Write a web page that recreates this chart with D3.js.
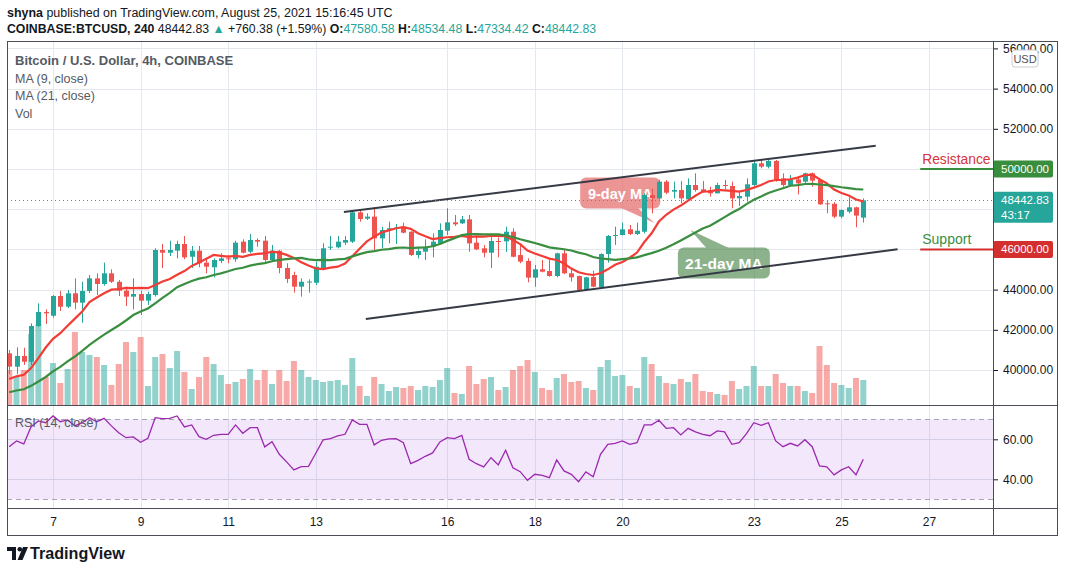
<!DOCTYPE html>
<html><head><meta charset="utf-8">
<script src="https://cdn.jsdelivr.net/npm/d3@7"></script>
<style>
html,body{margin:0;padding:0;background:#fff;}
svg{display:block;font-family:"Liberation Sans",Arial,sans-serif;}
</style></head><body>
<svg id="c" width="1065" height="573"></svg>
<script>
// ---------------- DATA ----------------
const startTime = "2021-08-06T00:00:00Z";   // first 4h candle
const opens = [
40830,40165,40700,40410,42190,42885,42700,43680,43150,43815,
43350,43930,44560,44280,44810,44390,43945,43650,43780,43450,
43730,45970,45835,45935,46270,45635,45935,45340,45110,45425,
45555,45510,46385,45885,46468,46435,45475,45935,45075,44725,
44145,44380,44340,45060,46085,46105,46335,46385,47845,47530,
47630,46550,46965,47050,47130,46880,45720,45885,46135,46300,
46930,47347,47297,47497,46335,46055,45835,46418,46400,46880,
45720,45425,44594,45010,44925,44677,45805,44810,44677,43980,
44627,44115,45770,46667,46716,47000,46766,46880,48706,48540,
49370,48872,48955,48491,49204,48990,48955,48790,49204,49154,
48541,48623,49204,50282,50116,50400,49536,49204,49486,49370,
49785,49453,48293,48270,47630,47876,48093,47580.58];
const highs = [
40995,41130,41110,42320,43318,43020,43730,43930,43980,44560,
44390,44725,44810,45340,45010,44480,44145,44560,43945,43900,
46055,46270,46435,46435,46667,46170,46170,45510,45555,45805,
45720,46435,46500,46765,46550,46667,46220,45970,45310,44890,
44560,44510,45390,46305,46667,46667,46667,47910,47910,47795,
48095,47130,47380,47265,47330,46900,46055,46500,46800,47297,
48045,47712,47662,47712,46650,46220,46650,46600,47130,47050,
46220,45555,45225,45475,45475,45835,45970,45060,44700,44640,
44940,45805,46716,47130,47330,47215,47330,48790,49040,49450,
49450,49370,49400,49536,49785,49400,49120,49320,49453,49370,
48920,49536,50448,50448,50448,50448,49785,49700,49650,49820,
49820,49486,48430,48350,47990,48590,48127,48534.48];
const lows = [
39800,39800,40250,40250,42140,42290,42600,42935,43085,43020,
42350,43830,43730,44195,44330,43680,43185,43020,42735,43235,
43650,45075,45670,45555,45510,45075,45110,44810,44610,45325,
45310,45390,45805,45805,46135,45390,45375,44810,44330,43850,
43650,43850,44230,44975,45970,46050,46220,46320,47380,47463,
45970,46055,46300,46270,46800,45670,45555,45475,45605,46220,
46716,47165,47265,45885,45970,45605,45075,45605,45870,45605,
45310,44362,44145,44860,44640,44610,44775,44395,43945,43945,
44115,44065,45340,46220,46700,46716,46716,46800,47795,48490,
48750,48541,48293,48460,48872,48823,48623,48790,48990,48045,
48160,48375,49150,50033,50033,49370,49120,49150,48740,49287,
49120,48209,47795,47547,47547,47795,47100,47334.42];
const closes = [
40165,40700,40410,42190,42885,42820,43680,43150,43815,43350,
43930,44560,44280,44810,44390,43945,43650,43780,43450,43780,
45970,45835,45970,46270,45605,45935,45310,45140,45475,45555,
45510,46335,45835,46468,46385,45475,45935,45075,44530,44145,
44390,44400,45140,46055,46135,46385,46468,47845,47513,47630,
46550,46965,47050,47080,46830,45720,45920,46135,46385,46965,
47347,47248,47497,46300,46003,45835,46418,46400,46880,45635,
45390,44594,45010,44890,44677,45805,44810,44610,43980,44610,
44145,45770,46667,46716,47000,46766,46930,48706,48540,49370,
48823,48955,48541,49204,48955,48840,48790,49204,49154,48541,
48657,49237,50282,50116,50400,49486,49204,49486,49287,49785,
49420,48244,48244,47630,47960,48093,47682.45,48442.83];
const volumes = [
2100,1680,2100,4260,4860,1680,2520,1320,2160,4380,
3180,3000,2880,2400,1200,2460,3780,3180,4080,1140,
2880,3060,2220,3240,1980,960,1680,2880,2460,1800,
1260,1380,1560,2160,1500,2100,1260,2100,1440,2640,
2100,1680,1500,1380,1440,1500,1200,2820,1140,540,
1680,1260,840,1080,1020,1140,900,1140,1080,1500,
2220,720,660,2340,1260,1560,1680,900,1080,2100,
2340,2700,1980,1020,900,1620,1860,1380,1440,1020,
900,2280,2700,1740,1800,1140,1020,2880,2460,1740,
1320,1260,1560,1380,1860,840,780,660,600,1440,
960,1140,2340,1140,1140,1860,1320,1140,1140,840,
720,3540,2400,1320,1200,1020,1620,1500];
const rsiValues = [
56.3,59.2,57.7,66.3,69.2,68.3,71.7,68.8,69.7,66.7,
68.3,70.8,68.8,70.5,66.7,63.3,60.8,61.2,58.5,60.5,
70.8,70.3,70.5,71.7,66.2,67.2,61.3,60.0,62.0,62.5,
62.5,67.2,63.0,65.8,65.8,56.2,58.8,52.5,48.7,44.7,
46.3,46.5,53.0,59.7,60.3,61.7,62.5,69.7,67.5,67.5,
57.2,59.5,60.2,60.3,58.3,47.8,49.5,51.5,53.2,58.7,
60.8,60.3,62.0,50.0,47.8,46.2,50.8,47.2,54.5,45.8,
43.8,39.5,42.5,42.0,40.8,49.7,44.2,42.5,38.8,43.7,
41.3,52.5,57.5,58.0,59.2,57.5,58.3,67.2,67.2,69.5,
65.5,65.8,62.2,65.5,63.7,62.5,61.8,64.2,63.7,57.5,
58.3,62.8,68.3,67.0,68.3,59.2,56.3,58.0,56.7,59.8,
56.3,46.7,46.2,42.2,44.7,46.3,42.2,50.0];
// closes of the 20 candles before the visible range (moving-average warm-up)
const priorCloses = [38900,39150,38600,38300,38150,37900,38350,38150,38200,37950,
38500,38700,39500,39700,39200,38400,38100,39800,40600,40500];
const maPeriods = [9, 21];
const dayTicks = ["2021-08-07","2021-08-09","2021-08-11","2021-08-13","2021-08-16",
  "2021-08-18","2021-08-20","2021-08-23","2021-08-25","2021-08-27"];
const priceTicks = [40000,42000,44000,46000,48000,50000,52000,54000,56000];
const rsiGridTicks = [40, 60];
const rsiBand = [30, 70];
const trendLines = [
  [["2021-08-13T15:24Z", 47860], ["2021-08-25T18:48Z", 51160]],
  [["2021-08-14T03:24Z", 42540], ["2021-08-26T06:48Z", 46005]]
];
const maLabels = [
  {text:"9-day MA",  t:"2021-08-19T22:48Z", p:48806, tipT:"2021-08-20T17:36Z", tipP:47313},
  {text:"21-day MA", t:"2021-08-22T07:36Z", p:45323, tipT:"2021-08-21T13:12Z", tipP:46965}
];
const levels = [
  {name:"Resistance", price:50000, from:"2021-08-26T19:12Z"},
  {name:"Support",    price:46000, from:"2021-08-26T19:12Z"}
];
const author = "shyna", published = "August 25, 2021 15:16:45 UTC";
const symbol = "COINBASE:BTCUSD, 240", timeLeft = "43:17";

// ---------------- LAYOUT ----------------
const L=7, R=1058, AX=993, TOP=41, MB=405, RB=508, TB=536;
const UP="#26a69a", DN="#ef5350", GRID="#e3e8ef", FRAME="#4a4d57";
const svg = d3.select("#c");
const H4 = 4*3600*1000;
const t0 = new Date(startTime);
const data = closes.map((c,i)=>({t:new Date(+t0+i*H4), o:opens[i], h:highs[i], l:lows[i], c, v:volumes[i], r:rsiValues[i]}));
const allC = priorCloses.concat(closes);
const P = priorCloses.length;
const ma = maPeriods.map(n => data.map((d,i)=>({t:d.t, v:d3.mean(allC.slice(i+P-n+1, i+P+1))})));

const x = d3.scaleUtc().domain([t0, new Date(+t0+126*H4)]).range([9.2, 9.2+7.3*126]);
const y = d3.scaleLinear().domain([38259, 56368]).range([MB, TOP]);
const yv = d3.scaleLinear().domain([0, d3.max(volumes)]).range([MB, MB-81]);
const yr = d3.scaleLinear().domain([25.65, 77.15]).range([RB, MB]);

const defs = svg.append("defs");
defs.append("clipPath").attr("id","cm").append("rect").attr("x",L).attr("y",TOP).attr("width",AX-L).attr("height",MB-TOP);
defs.append("clipPath").attr("id","cr").append("rect").attr("x",L).attr("y",MB).attr("width",AX-L).attr("height",RB-MB);
defs.append("clipPath").attr("id","ca").append("rect").attr("x",0).attr("y",TOP+1).attr("width",R-AX).attr("height",MB-TOP-1);

// fit a text to a target width by choosing its font size (keeps glyph proportions)
function fitWidth(sel, target, base){
  const w = sel.node().getComputedTextLength();
  sel.attr("font-size", base*target/w);
}

// ---- header ----
const h1 = svg.append("text").attr("x",7).attr("y",17).attr("font-size",13).attr("fill","#131722");
h1.append("tspan").attr("font-weight","bold").text(author);
h1.append("tspan").text(" published on TradingView.com, " + published);
fitWidth(h1, 386, 13);
const last = data[data.length-1], prev = data[data.length-2];
const chg = last.c - prev.c, pct = chg/prev.c*100;
const f2 = d3.format(".2f");
const h2 = svg.append("text").attr("x",7).attr("y",33).attr("font-size",13).attr("fill","#131722");
h2.append("tspan").attr("font-weight","bold").text(symbol);
h2.append("tspan").text(" " + f2(last.c) + " ");
h2.append("tspan").attr("fill",UP).text("▲");
h2.append("tspan").text(" +" + f2(chg) + " (+" + f2(pct) + "%) ");
[["O:",last.o],["H:",last.h],["L:",last.l],["C:",last.c]].forEach(([k,v],i)=>{
  h2.append("tspan").attr("font-weight","bold").text((i? " ":"") + k);
  h2.append("tspan").attr("fill",UP).text(f2(v));
});
fitWidth(h2, 590, 13);

// ---- grid ----
const gGrid = svg.append("g");
dayTicks.forEach(d=>{
  const xx = Math.round(x(new Date(d+"T00:00Z")))+0.5;
  gGrid.append("line").attr("x1",xx).attr("x2",xx).attr("y1",TOP).attr("y2",RB).attr("stroke",GRID);
});
priceTicks.forEach(p=>{
  const yy = Math.round(y(p))+0.5;
  gGrid.append("line").attr("x1",L).attr("x2",AX).attr("y1",yy).attr("y2",yy).attr("stroke",GRID);
});
// RSI band + grid
svg.append("rect").attr("x",L).attr("width",AX-L).attr("y",yr(rsiBand[1])).attr("height",yr(rsiBand[0])-yr(rsiBand[1]))
  .attr("fill","#a050e0").attr("fill-opacity",0.13);
rsiGridTicks.forEach(r=>{
  const yy = Math.round(yr(r))+0.5;
  svg.append("line").attr("x1",L).attr("x2",AX).attr("y1",yy).attr("y2",yy).attr("stroke","#d4cde6");
});
rsiBand.forEach(r=>{
  const yy = Math.round(yr(r))+0.5;
  svg.append("line").attr("x1",L).attr("x2",AX).attr("y1",yy).attr("y2",yy).attr("stroke","#a9a6b3").attr("stroke-dasharray","5,4");
});

// ---- main pane ----
const gm = svg.append("g").attr("clip-path","url(#cm)");
// MA labels (under candles)
maLabels.forEach((m,i)=>{
  const cx = x(new Date(m.t)), cy = y(m.p), tx = x(new Date(m.tipT)), ty = y(m.tipP);
  const w = i===0 ? 80 : 92, h = 31;
  const g = gm.append("g").attr("opacity", i===0?0.65:0.6);
  const fill = i===0 ? "#e35d5d" : "#3f7f3f";
  g.append("rect").attr("x",cx-w/2).attr("y",cy-h/2).attr("width",w).attr("height",h).attr("rx",6).attr("fill",fill);
  const pts = i===0 ? [[cx,cy+h/2-1],[cx+17,cy+h/2-1],[tx,ty]] : [[cx-17,cy-h/2+1],[cx+6,cy-h/2+1],[tx,ty]];
  g.append("polygon").attr("points",pts.map(p=>p.join(",")).join(" ")).attr("fill",fill);
  gm.append("text").attr("x",cx).attr("y",cy+5.5).attr("text-anchor","middle").attr("fill","#fff")
    .attr("font-weight","bold").attr("font-size",i===0?14.5:15.5).text(m.text);
});
// volume
gm.selectAll(".vol").data(data).join("rect")
  .attr("x",d=>x(d.t)-3).attr("width",6).attr("y",d=>yv(d.v)).attr("height",d=>MB-yv(d.v))
  .attr("fill",d=>d.c>=d.o?UP:DN).attr("fill-opacity",0.5);
// candles
const cg = gm.selectAll(".cd").data(data).join("g");
cg.append("line").attr("x1",d=>Math.round(x(d.t))+0.5).attr("x2",d=>Math.round(x(d.t))+0.5)
  .attr("y1",d=>y(d.h)).attr("y2",d=>y(d.l)).attr("stroke",d=>d.c>=d.o?UP:DN).attr("stroke-width",1);
cg.append("rect").attr("x",d=>Math.round(x(d.t))-2).attr("width",5)
  .attr("y",d=>y(Math.max(d.o,d.c))).attr("height",d=>Math.max(1,Math.abs(y(d.o)-y(d.c))))
  .attr("fill",d=>d.c>=d.o?UP:DN);
// MA lines
const maColors = ["#f23c36","#3a8e3f"];
ma.forEach((s,i)=>{
  gm.append("path").datum(s).attr("fill","none").attr("stroke",maColors[i]).attr("stroke-width",2.2)
    .attr("d",d3.line().x(d=>x(d.t)).y(d=>y(d.v)).curve(d3.curveLinear));
});
// trend lines
trendLines.forEach(tl=>{
  gm.append("line").attr("x1",x(new Date(tl[0][0]))).attr("y1",y(tl[0][1]))
    .attr("x2",x(new Date(tl[1][0]))).attr("y2",y(tl[1][1])).attr("stroke","#363a45").attr("stroke-width",2);
});
// last price dotted line
gm.append("line").attr("x1",L).attr("x2",AX).attr("y1",Math.round(y(last.c))+0.5).attr("y2",Math.round(y(last.c))+0.5)
  .attr("stroke",UP).attr("stroke-dasharray","1,3");
// support / resistance
levels.forEach(lv=>{
  const isR = lv.name==="Resistance";
  const lineC = isR ? "#388e3c" : "#d32f2f", textC = isR ? "#d8343a" : "#3b8e3f";
  const x1 = x(new Date(lv.from)), yy = y(lv.price);
  gm.append("line").attr("x1",x1).attr("x2",AX).attr("y1",yy).attr("y2",yy).attr("stroke",lineC).attr("stroke-width",2);
  gm.append("text").attr("x",x1+2).attr("y",yy-5).attr("fill",textC).attr("font-size",isR?13.8:14).text(lv.name);
});

// legend
const legend = ["Bitcoin / U.S. Dollar, 4h, COINBASE","MA (9, close)","MA (21, close)","Vol"];
legend.forEach((s,i)=>{
  svg.append("text").attr("x",15).attr("y",65+i*17.5).attr("fill","#555a63").attr("font-size",i===0?13:12.5)
    .attr("font-weight",i===0?"bold":"normal").text(s);
});

// ---- RSI pane ----
const gr = svg.append("g").attr("clip-path","url(#cr)");
gr.append("path").datum(data).attr("fill","none").attr("stroke","#9c27b0").attr("stroke-width",1.3)
  .attr("d",d3.line().x(d=>x(d.t)).y(d=>yr(d.r)));
svg.append("text").attr("x",15).attr("y",427).attr("fill","#555a63").attr("font-size",12.5).text("RSI (14, close)");

// ---- axes ----
// axis tags cover some tick labels (as on the original), so leave those ticks out
const tagPrices = [levels[0].price, levels[1].price, last.c];
const visibleTicks = priceTicks.filter(p => tagPrices.every(tp => Math.abs(y(p)-y(tp)) > 14));
const pa = svg.append("g").attr("transform",`translate(${AX},0)`).attr("clip-path","url(#ca)")
  .call(d3.axisRight(y).tickValues(visibleTicks).tickFormat(f2).tickSize(5).tickPadding(5));
pa.select(".domain").remove();
pa.selectAll("text").attr("font-size",12).attr("fill","#131722").attr("font-family","Liberation Sans, Arial");
pa.selectAll("line").attr("stroke","#131722");
const ra = svg.append("g").attr("transform",`translate(${AX},0)`)
  .call(d3.axisRight(yr).tickValues(rsiGridTicks).tickFormat(f2).tickSize(5).tickPadding(5));
ra.select(".domain").remove();
ra.selectAll("text").attr("font-size",12).attr("fill","#131722").attr("font-family","Liberation Sans, Arial");
ra.selectAll("line").attr("stroke","#131722");
const ta = svg.append("g").attr("transform",`translate(0,${RB})`)
  .call(d3.axisBottom(x).tickValues(dayTicks.map(d=>new Date(d+"T00:00Z"))).tickFormat(d3.utcFormat("%-d")).tickSize(0).tickPadding(9));
ta.select(".domain").remove();
ta.selectAll("text").attr("font-size",12).attr("fill","#131722").attr("font-family","Liberation Sans, Arial");

// axis price tags
function tag(price, fill, lines, h){
  const yy = y(price);
  svg.append("rect").attr("x",AX).attr("y",yy-8.5).attr("width",60).attr("height",h).attr("rx",2).attr("fill",fill);
  lines.forEach((s,i)=>svg.append("text").attr("x",AX+8).attr("y",yy+4+i*14.5).attr("fill","#fff").attr("font-size",11.5).text(s));
}
tag(levels[0].price, "#388e3c", [f2(levels[0].price)], 17);
tag(levels[1].price, "#d32f2f", [f2(levels[1].price)], 17);
tag(last.c, UP, [f2(last.c), timeLeft], 31);
// USD badge
svg.append("rect").attr("x",1012).attr("y",50).attr("width",26).attr("height",17).attr("rx",3)
  .attr("fill","#fff").attr("stroke","#c9ccd3");
svg.append("text").attr("x",1025).attr("y",62.5).attr("text-anchor","middle").attr("font-size",11).attr("fill","#50535e").text("USD");

// ---- frame ----
const fr = svg.append("g").attr("stroke",FRAME).attr("stroke-width",1).attr("fill","none");
fr.append("rect").attr("x",L+0.5).attr("y",TOP+0.5).attr("width",R-L-1).attr("height",TB-TOP-1);
fr.append("line").attr("x1",AX+0.5).attr("x2",AX+0.5).attr("y1",TOP).attr("y2",TB);
fr.append("line").attr("x1",L).attr("x2",R).attr("y1",MB+0.5).attr("y2",MB+0.5);
fr.append("line").attr("x1",L).attr("x2",R).attr("y1",RB+0.5).attr("y2",RB+0.5);

// ---- logo ----
const lg = svg.append("g").attr("fill","#131722");
lg.append("rect").attr("x",7).attr("y",547).attr("width",9).attr("height",4);
lg.append("rect").attr("x",12).attr("y",547).attr("width",4).attr("height",13);
lg.append("circle").attr("cx",19.8).attr("cy",549.2).attr("r",2.3);
lg.append("polygon").attr("points","23,547 28,547 22.5,560 17.5,560");
const tvText = svg.append("text").attr("x",30).attr("y",559).attr("font-size",16).attr("font-weight","bold").attr("fill","#131722")
  .text("TradingView");
fitWidth(tvText, 95, 16);
</script></body></html>
